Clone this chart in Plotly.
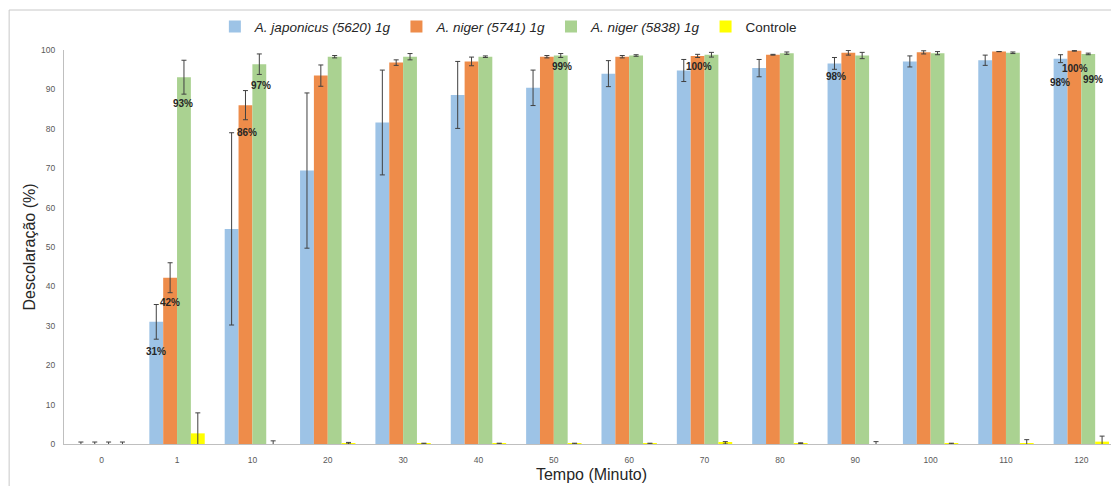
import plotly.graph_objects as go

# ---- data ----
tempos = ["0", "1", "10", "20", "30", "40", "50", "60", "70", "80", "90", "100", "110", "120"]

japonicus_5620 = [0, 31.0, 54.6, 69.4, 81.6, 88.6, 90.4, 94.0, 94.8, 95.4, 96.6, 97.1, 97.4, 97.8]
japonicus_5620_err = [0.5, 4.4, 24.4, 19.7, 13.3, 8.5, 4.5, 3.3, 2.8, 2.2, 1.5, 1.4, 1.3, 1.0]

niger_5741 = [0, 42.2, 86.0, 93.5, 96.8, 97.1, 98.3, 98.3, 98.5, 98.8, 99.3, 99.4, 99.6, 99.8]
niger_5741_err = [0.5, 3.8, 3.7, 2.7, 0.7, 1.1, 0.3, 0.3, 0.4, 0.1, 0.6, 0.4, 0.0, 0.1]

niger_5838 = [0, 93.1, 96.4, 98.3, 98.3, 98.3, 98.6, 98.6, 98.8, 99.2, 98.6, 99.2, 99.3, 99.0]
niger_5838_err = [0.5, 4.3, 2.6, 0.3, 0.8, 0.2, 0.5, 0.2, 0.6, 0.3, 0.8, 0.4, 0.2, 0.2]

controle = [0, 2.7, 0, 0.2, 0.1, 0.1, 0.1, 0.1, 0.3, 0.2, 0, 0.1, 0.2, 0.6]
controle_err = [0.5, 5.2, 0.8, 0.2, 0.1, 0.1, 0.1, 0.1, 0.3, 0.1, 0.6, 0.1, 0.9, 1.4]

# data labels: text, category position, y value
label_texts = ["31%", "42%", "93%", "86%", "97%", "99%", "100%", "98%", "100%", "98%", "99%"]
label_x = [0.725, 0.913, 1.079, 1.924, 2.114, 6.104, 7.926, 9.740, 12.915, 12.716, 13.150]
label_y = [23.4, 35.9, 86.5, 79.1, 90.9, 95.8, 95.9, 93.4, 95.2, 91.7, 92.4]

series = [
    ("<i>A. japonicus (5620) 1g</i>", japonicus_5620, japonicus_5620_err, "#9DC3E6"),
    ("<i>A. niger (5741) 1g</i>", niger_5741, niger_5741_err, "#EE8C4A"),
    ("<i>A. niger (5838) 1g</i>", niger_5838, niger_5838_err, "#AAD291"),
    ("Controle", controle, controle_err, "#FFFF00"),
]

FONT = "Liberation Sans, Arial, sans-serif"
xpos = list(range(len(tempos)))

fig = go.Figure()
for name, vals, errs, color in series:
    fig.add_trace(go.Bar(
        x=xpos, y=vals, name=name,
        marker=dict(color=color, line=dict(width=0)),
        error_y=dict(type="data", array=errs, visible=True,
                     color="#404040", thickness=1, width=2.5),
    ))

for t, x, y in zip(label_texts, label_x, label_y):
    fig.add_annotation(x=x, y=y, xref="x", yref="y", text=f"<b>{t}</b>",
                       showarrow=False, font=dict(family=FONT, size=10, color="#262626"))

# outer chart border (partially visible)
fig.add_shape(type="rect", xref="paper", yref="paper",
              x0=-0.052, x1=1.05, y0=-0.3, y1=1.1015,
              line=dict(color="#C8C8C8", width=1), fillcolor="rgba(0,0,0,0)", layer="below")

# page body adds an 8px offset, so the figure is sized to fit the remaining window
fig.update_layout(
    width=1111, height=478,
    margin=dict(l=56, r=0, t=42, b=42),
    paper_bgcolor="white", plot_bgcolor="white",
    barmode="group", bargap=0.265, bargroupgap=0,
    font=dict(family=FONT, color="#262626"),
    legend=dict(orientation="h", x=0.143, xanchor="left", y=1.059, yanchor="middle",
                font=dict(family=FONT, size=13.5, color="#262626"),
                bgcolor="rgba(0,0,0,0)"),
    xaxis=dict(range=[-0.5, 13.5], tickmode="array", tickvals=xpos, ticktext=tempos,
               showline=True, linecolor="#BFBFBF", linewidth=1, ticks="",
               showgrid=False, zeroline=False, ticklabelstandoff=8, automargin=False,
               tickfont=dict(family=FONT, size=8.5, color="#595959"),
               title=dict(text="Tempo (Minuto)", font=dict(family=FONT, size=16, color="#262626"),
                          standoff=4)),
    yaxis=dict(range=[0, 100], dtick=10, showline=True, linecolor="#BFBFBF", linewidth=1,
               ticks="", showgrid=False, zeroline=False, ticklabelstandoff=6, automargin=False,
               tickfont=dict(family=FONT, size=8.5, color="#595959"),
               title=dict(text="Descolaração (%)", font=dict(family=FONT, size=16, color="#262626"),
                          standoff=1)),
)

fig.write_html("out.html")
